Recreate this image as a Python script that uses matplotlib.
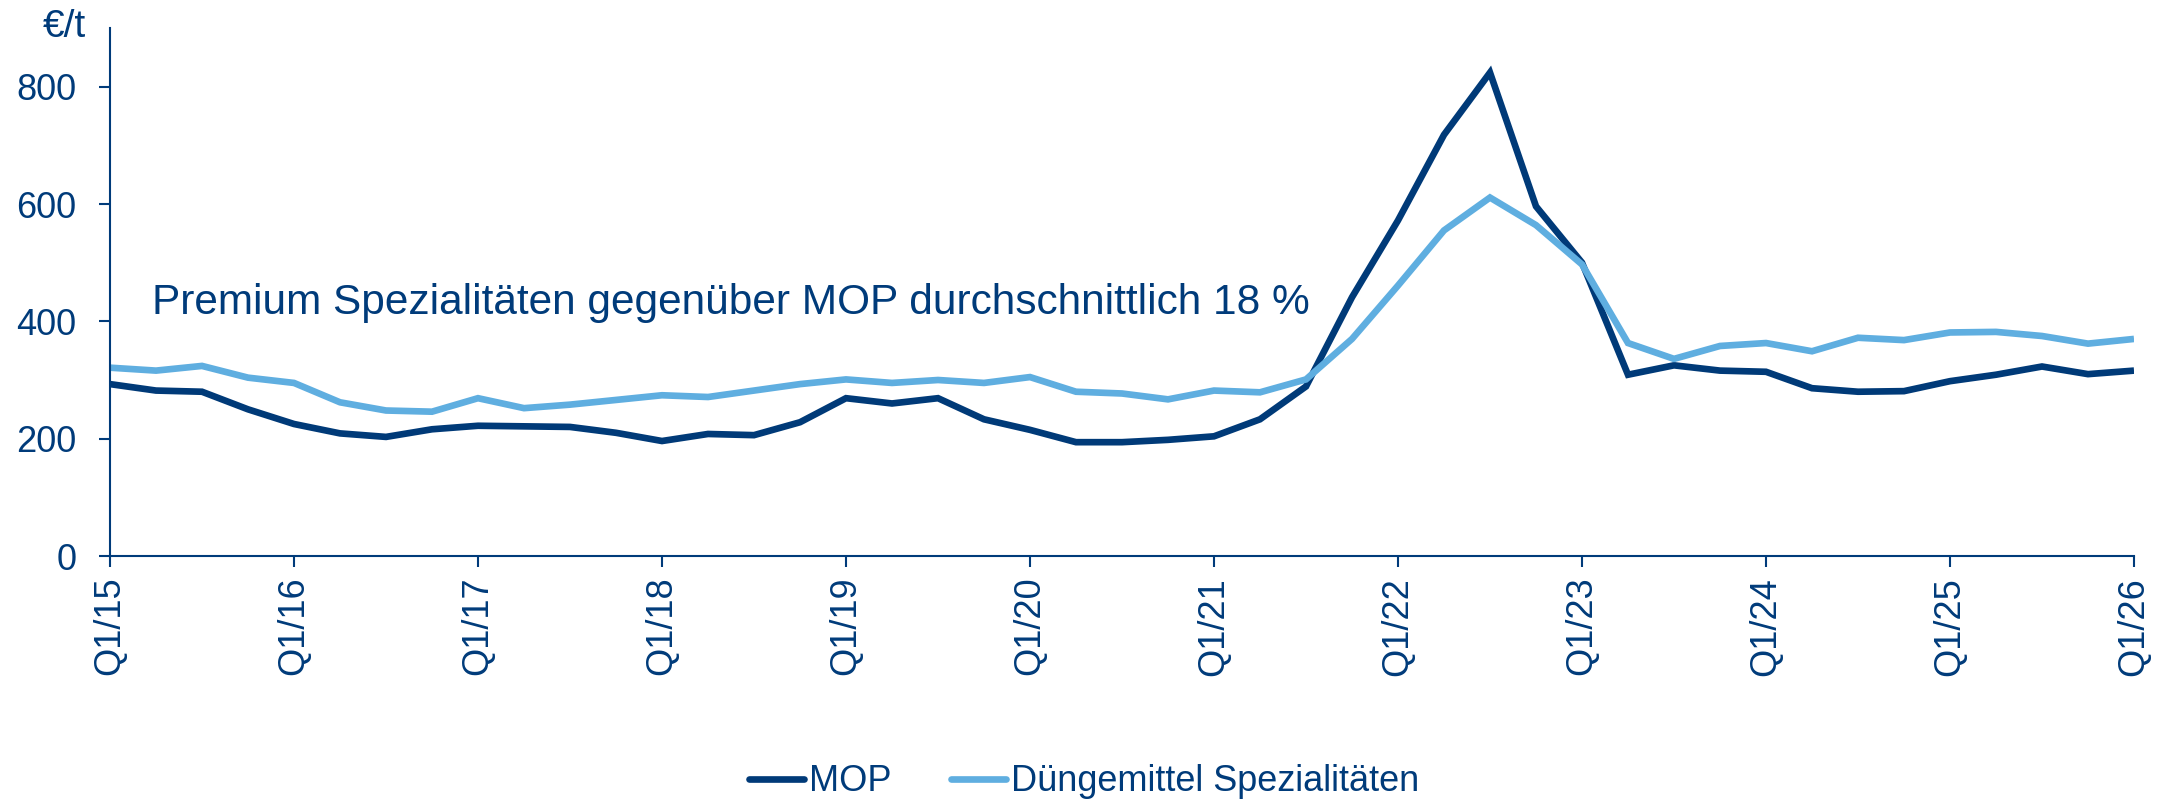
import matplotlib
matplotlib.use("Agg")
import matplotlib.pyplot as plt

# Quarterly prices in EUR per tonne, Q1/15 .. Q1/26
quarters = [f"Q{q}/{y:02d}" for y in range(15, 27) for q in range(1, 5)][:45]

mop = [293, 282, 280, 250, 225, 209, 203, 216,
       222, 221, 220, 210, 196, 208, 206, 228,
       269, 260, 269, 233, 215, 194, 194, 198,
       204, 233, 289, 441, 572, 718, 824, 596,
       500, 309, 325, 316, 314, 286, 280, 281,
       298, 309, 323, 310, 316]

spezialitaeten = [321, 316, 324, 304, 295, 262, 248, 246,
                  269, 252, 258, 266, 274, 271, 282, 293,
                  301, 295, 300, 295, 305, 280, 277, 267,
                  282, 279, 301, 370, 461, 555, 611, 564,
                  497, 363, 336, 358, 363, 349, 372, 368,
                  381, 382, 375, 362, 370]

y_ticks = [0, 200, 400, 600, 800]
annotation = "Premium Spezialitäten gegenüber MOP durchschnittlich 18 %"

navy = "#003B7A"
dark_line = "#003A78"
light_line = "#5FAEE0"

plt.rcParams["font.family"] = ["Liberation Sans", "DejaVu Sans"]

fig = plt.figure(figsize=(21.64, 8.02), dpi=100)
ax = fig.add_axes([110 / 2164, 1 - 556 / 802, (2134 - 110) / 2164, (556 - 28) / 802])

x = list(range(len(quarters)))
ax.plot(x, mop, color=dark_line, lw=4.8, label="MOP", solid_joinstyle="miter",
        solid_capstyle="butt")
ax.plot(x, spezialitaeten, color=light_line, lw=4.8, label="Düngemittel Spezialitäten",
        solid_joinstyle="miter", solid_capstyle="butt")

ax.set_xlim(0, len(quarters) - 1)
ax.set_ylim(0, 900)
ax.set_yticks(y_ticks)
ax.set_xticks(x[::4])
ax.set_xticklabels(quarters[::4], rotation=90)

for side in ("top", "right"):
    ax.spines[side].set_visible(False)
for side in ("left", "bottom"):
    ax.spines[side].set_color(navy)
    ax.spines[side].set_linewidth(1.5)

ax.tick_params(axis="both", colors=navy, labelcolor=navy, labelsize=26,
               length=8, width=1.5, direction="out")
ax.tick_params(axis="x", pad=7)
ax.tick_params(axis="y", pad=16)

ax.text(0.92, 412, annotation, color=navy, fontsize=30.5, ha="left", va="baseline")

fig.text(86 / 2164, 1 - 37 / 802, "€/t", color=navy, fontsize=28, ha="right", va="baseline")

leg = fig.legend(loc="lower center", bbox_to_anchor=(0.501, -0.019), ncol=2, frameon=False,
                 fontsize=26, handlelength=1.52, handletextpad=0.14, columnspacing=1.66,
                 borderpad=0.0)
for t in leg.get_texts():
    t.set_color(navy)
for h in leg.get_lines():
    h.set_solid_capstyle("round")

fig.savefig("out.png", dpi=100)
